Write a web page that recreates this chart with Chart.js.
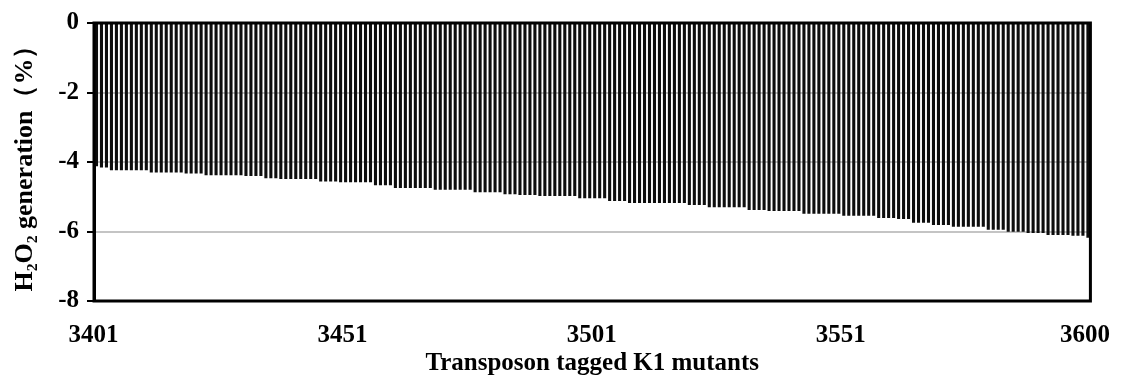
<!DOCTYPE html>
<html>
<head>
<meta charset="utf-8">
<script src="https://cdn.jsdelivr.net/npm/chart.js@4/dist/chart.umd.min.js"></script>
<style>
    html, body { margin: 0; padding: 0; background: #fff; }
    #wrap { width: 1125px; height: 379px; }
</style>
</head>
<body>
<div id="wrap"><canvas id="chart" width="1125" height="379"></canvas></div>
<script>
        // ── Data ───────────────────────────────────
        const firstMutant = 3401;
        const lastMutant  = 3600;
        const shownTicks  = ['3401', '3451', '3501', '3551', '3600'];

        const mutants = [];
        for (let m = firstMutant; m <= lastMutant; m++) mutants.push(String(m));

        // H2O2 generation (%)
        const h2o2 = [
            -4.12,-4.16,-4.16,-4.24,-4.24,-4.24,-4.24,-4.24,-4.24,-4.24,
            -4.24,-4.30,-4.30,-4.30,-4.30,-4.30,-4.30,-4.30,-4.33,-4.33,
            -4.33,-4.33,-4.38,-4.38,-4.38,-4.38,-4.38,-4.38,-4.38,-4.38,
            -4.40,-4.40,-4.40,-4.40,-4.47,-4.47,-4.47,-4.49,-4.49,-4.49,
            -4.49,-4.49,-4.49,-4.49,-4.49,-4.56,-4.56,-4.56,-4.56,-4.58,
            -4.58,-4.58,-4.58,-4.58,-4.58,-4.58,-4.67,-4.67,-4.67,-4.67,
            -4.75,-4.75,-4.75,-4.75,-4.75,-4.75,-4.75,-4.75,-4.80,-4.80,
            -4.80,-4.80,-4.80,-4.80,-4.80,-4.80,-4.87,-4.87,-4.87,-4.87,
            -4.87,-4.87,-4.93,-4.93,-4.93,-4.95,-4.95,-4.95,-4.95,-4.98,
            -4.98,-4.98,-4.98,-4.98,-4.98,-4.98,-4.98,-5.04,-5.04,-5.04,
            -5.04,-5.04,-5.04,-5.12,-5.12,-5.12,-5.12,-5.18,-5.18,-5.18,
            -5.18,-5.18,-5.18,-5.18,-5.18,-5.18,-5.18,-5.18,-5.18,-5.24,
            -5.24,-5.24,-5.24,-5.30,-5.30,-5.30,-5.30,-5.30,-5.30,-5.30,
            -5.30,-5.38,-5.38,-5.38,-5.38,-5.41,-5.41,-5.41,-5.41,-5.41,
            -5.41,-5.41,-5.49,-5.49,-5.49,-5.49,-5.49,-5.49,-5.49,-5.49,
            -5.55,-5.55,-5.55,-5.55,-5.55,-5.55,-5.55,-5.61,-5.61,-5.61,
            -5.61,-5.64,-5.64,-5.64,-5.75,-5.75,-5.75,-5.75,-5.81,-5.81,
            -5.81,-5.81,-5.86,-5.86,-5.86,-5.86,-5.86,-5.86,-5.86,-5.95,
            -5.95,-5.95,-5.95,-6.01,-6.01,-6.01,-6.01,-6.04,-6.04,-6.04,
            -6.04,-6.10,-6.10,-6.10,-6.10,-6.10,-6.12,-6.12,-6.12,-6.18
        ];

        const yMin = -8, yMax = 0, yStep = 2;

        // ── Frame round the plot area ──────────────
        const framePlugin = {
            id: 'frame',
            afterDatasetsDraw(chart) {
                const { ctx, chartArea: a } = chart;
                ctx.save();
                ctx.strokeStyle = '#000';
                ctx.lineWidth = 3;
                ctx.strokeRect(a.left, a.top, a.right - a.left, a.bottom - a.top);
                ctx.restore();
            }
        };

        const serif = '"Liberation Serif", "Times New Roman", "DejaVu Serif", serif';

        new Chart(document.getElementById('chart').getContext('2d'), {
            type: 'bar',
            data: {
                labels: mutants,
                datasets: [{
                    data: h2o2,
                    backgroundColor: '#0d0d0d',
                    borderWidth: 0,
                    barPercentage: 0.62,
                    categoryPercentage: 1
                }]
            },
            options: {
                responsive: false,
                animation: false,
                layout: { padding: { top: 20, right: 33, left: 10, bottom: 0 } },
                plugins: { legend: { display: false }, tooltip: { enabled: false } },
                scales: {
                    x: {
                        grid: { display: false },
                        border: { display: false },
                        ticks: {
                            autoSkip: false,
                            maxRotation: 0,
                            minRotation: 0,
                            padding: 12,
                            labelOffset: -3,
                            color: '#000',
                            font: { family: serif, size: 25, weight: 'bold' },
                            callback: function (v) {
                                const lbl = this.getLabelForValue(v);
                                return shownTicks.includes(lbl) ? lbl : '';
                            }
                        },
                        title: {
                            display: true,
                            text: 'Transposon tagged K1 mutants',
                            color: '#000',
                            padding: { top: 4, bottom: 0 },
                            font: { family: serif, size: 25, weight: 'bold' }
                        },
                        afterFit: s => { s.height = 78; }
                    },
                    y: {
                        min: yMin,
                        max: yMax,
                        grid: {
                            color: '#c4c4c4',
                            lineWidth: 2,
                            tickColor: '#000',
                            tickWidth: 2,
                            tickLength: 7
                        },
                        border: { display: true, color: '#000', width: 3 },
                        ticks: {
                            stepSize: yStep,
                            padding: 8,
                            color: '#000',
                            font: { family: serif, size: 25, weight: 'bold' }
                        },
                        title: {
                            display: true,
                            text: 'H\u2082O\u2082 generation（%）',
                            color: '#000',
                            padding: { top: 0, bottom: 2 },
                            font: { family: serif, size: 26, weight: 'bold' }
                        },
                        afterFit: s => { s.width = 84; }
                    }
                }
            },
            plugins: [framePlugin]
        });
</script>
</body>
</html>
